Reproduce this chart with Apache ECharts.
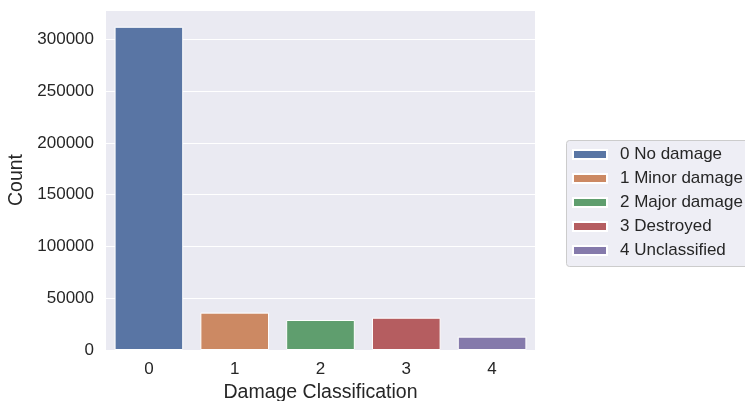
<!DOCTYPE html>
<html>
<head>
<meta charset="utf-8">
<script src="https://cdn.jsdelivr.net/npm/echarts@6/dist/echarts.min.js"></script>
<style>
html,body{margin:0;padding:0;background:#fff;}
#chart{width:745px;height:401px;}
</style>
</head>
<body>
<div id="chart"></div>
<script>
const categories = ['0', '1', '2', '3', '4'];
const legendNames = ['0 No damage', '1 Minor damage', '2 Major damage', '3 Destroyed', '4 Unclassified'];
const counts = [312300, 36100, 29000, 31200, 12900];
const colors = ['#5975a4', '#cc8963', '#5f9e6e', '#b55d60', '#857aab'];
const yTicks = [0, 50000, 100000, 150000, 200000, 250000, 300000];

const FONT = 'Liberation Sans, Arial, sans-serif';

const series = legendNames.map((name, i) => ({
  name: name,
  type: 'bar',
  barGap: '-100%',
  barCategoryGap: '20%',
  itemStyle: { color: colors[i], borderColor: '#ffffff', borderWidth: 1 },
  data: categories.map((c, j) => (j === i ? counts[j] : null))
}));

const chart = echarts.init(document.getElementById('chart'), null, { renderer: 'canvas' });
chart.setOption({
  animation: false,
  backgroundColor: '#ffffff',
  grid: {
    left: 106, right: 210, top: 10, bottom: 51,
    outerBoundsMode: 'none', containLabel: false,
    show: true, backgroundColor: '#EAEAF2', borderWidth: 0
  },
  graphic: [{
    type: 'rect',
    z: -1,
    shape: { x: 566.5, y: 140.5, width: 210, height: 126, r: 3 },
    style: { fill: 'rgba(234,234,242,0.8)', stroke: '#cccccc', lineWidth: 1 }
  }],
  legend: {
    orient: 'vertical',
    left: 566,
    top: 140,
    data: legendNames,
    itemWidth: 34,
    itemHeight: 9,
    itemGap: 7,
    padding: [6, 0, 8, 6],
    backgroundColor: 'transparent',
    borderWidth: 0,
    textStyle: { fontFamily: FONT, fontSize: 17, color: '#262626', padding: [0, 0, 0, 8], lineHeight: 17 },
    icon: 'rect'
  },
  xAxis: {
    type: 'category',
    data: categories,
    name: 'Damage Classification',
    nameLocation: 'middle',
    nameGap: 27,
    nameTextStyle: { fontFamily: FONT, fontSize: 19.5, color: '#262626' },
    axisLine: { show: false },
    axisTick: { show: false },
    axisLabel: { fontFamily: FONT, fontSize: 17, color: '#262626', margin: 11 },
    splitLine: { show: false }
  },
  yAxis: {
    type: 'value',
    min: 0,
    max: 328500,
    interval: 50000,
    name: 'Count',
    nameLocation: 'middle',
    nameGap: 78,
    nameTextStyle: { fontFamily: FONT, fontSize: 19.5, color: '#262626' },
    axisLine: { show: false },
    axisTick: { show: false },
    axisLabel: {
      fontFamily: FONT, fontSize: 17, color: '#262626', margin: 12,
      showMaxLabel: false,
      formatter: v => (yTicks.indexOf(v) >= 0 ? String(v) : '')
    },
    splitLine: { show: true, lineStyle: { color: '#ffffff', width: 1 } }
  },
  series: series
});
</script>
</body>
</html>
